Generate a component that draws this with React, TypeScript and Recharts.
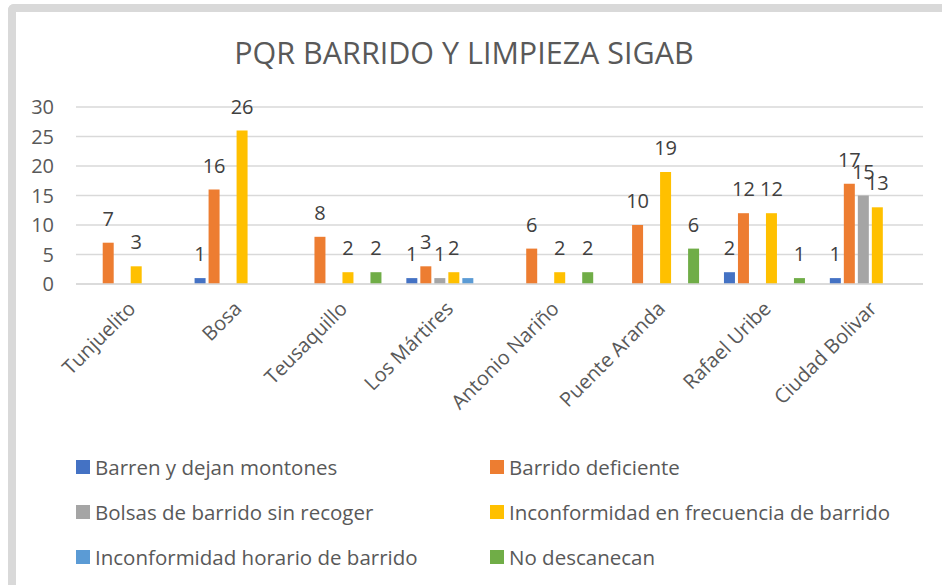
import { BarChart, Bar, XAxis, YAxis, CartesianGrid, LabelList } from 'recharts'

const categories = ['Tunjuelito', 'Bosa', 'Teusaquillo', 'Los Mártires', 'Antonio Nariño', 'Puente Aranda', 'Rafael Uribe', 'Ciudad Bolivar']

const barrenMontones = [null, 1, null, 1, null, null, 2, 1]
const barridoDeficiente = [7, 16, 8, 3, 6, 10, 12, 17]
const bolsasSinRecoger = [null, null, null, 1, null, null, null, 15]
const inconfFrecuencia = [3, 26, 2, 2, 2, 19, 12, 13]
const inconfHorario = [null, null, null, 1, null, null, null, null]
const noDescanecan = [null, null, 2, null, 2, 6, 1, null]

const yTicks = [0, 5, 10, 15, 20, 25, 30]

const series = [
  { key: 's1', name: 'Barren y dejan montones', color: '#4472C4', values: barrenMontones, labels: true },
  { key: 's2', name: 'Barrido deficiente', color: '#ED7D31', values: barridoDeficiente, labels: true },
  { key: 's3', name: 'Bolsas de barrido sin recoger', color: '#A5A5A5', values: bolsasSinRecoger, labels: true },
  { key: 's4', name: 'Inconformidad en frecuencia de barrido', color: '#FFC000', values: inconfFrecuencia, labels: true },
  { key: 's5', name: 'Inconformidad horario de barrido', color: '#5B9BD5', values: inconfHorario, labels: false },
  { key: 's6', name: 'No descanecan', color: '#70AD47', values: noDescanecan, labels: true },
]

const data = categories.map((name, i) => {
  const row: Record<string, string | number | null> = { name }
  for (const s of series) row[s.key] = s.values[i]
  return row
})

const FONT = '"Open Sans", sans-serif'
const TEXT = '#595959'

function AngledTick({ x, y, payload }: any) {
  return (
    <g transform={`translate(${x + 3},${y + 13})`}>
      <text textAnchor="end" transform="rotate(-45)" dy="0.35em" fill={TEXT} fontSize={20} fontFamily={FONT}>
        {payload.value}
      </text>
    </g>
  )
}

export default function App() {
  return (
    <div style={{ position: 'absolute', left: 0, top: 0, width: 942, height: 585, background: '#fff', overflow: 'hidden', fontFamily: FONT }}>
      {/* chart frame, only top/left edges are in view */}
      <div style={{ position: 'absolute', left: 8, top: 4, width: 960, height: 620, borderTop: '8px solid #d9d9d9', borderLeft: '8px solid #d9d9d9', borderTopLeftRadius: 6, boxSizing: 'border-box' }} />
      <div style={{ position: 'absolute', left: 0, width: 928, top: 32, textAlign: 'center', fontSize: 30.5, color: TEXT, lineHeight: '40px' }}>
        PQR BARRIDO Y LIMPIEZA SIGAB
      </div>
      <div style={{ position: 'absolute', left: 0, top: 0 }}>
        <BarChart width={942} height={585} data={data} margin={{ top: 107, right: 19, bottom: 201, left: 0 }} barCategoryGap="12%" barGap={3}>
          <CartesianGrid vertical={false} stroke="#d9d9d9" strokeWidth={1.5} />
          <XAxis dataKey="name" height={100} tickLine={false} axisLine={{ stroke: '#d9d9d9', strokeWidth: 1.5 }} tick={<AngledTick />} interval={0} />
          <YAxis width={76} domain={[0, 30]} ticks={yTicks} axisLine={false} tickLine={false} tickSize={0} tickMargin={22}
            tick={{ fill: TEXT, fontSize: 20, fontFamily: FONT }} />
          {series.map(s => (
            <Bar key={s.key} dataKey={s.key} name={s.name} fill={s.color} isAnimationActive={false}>
              {s.labels && <LabelList dataKey={s.key} position="top" offset={17} fill="#404040" fontSize={20} fontFamily={FONT} />}
            </Bar>
          ))}
        </BarChart>
      </div>
      {/* legend */}
      <div style={{ position: 'absolute', left: 76, top: 452, display: 'grid', gridTemplateColumns: '414px 420px', rowGap: 15, fontSize: 20.5, color: TEXT }}>
        {series.map(s => (
          <div key={s.key} style={{ display: 'flex', alignItems: 'center', height: 30, whiteSpace: 'nowrap' }}>
            <span style={{ display: 'inline-block', width: 14, height: 14, background: s.color, marginRight: 5 }} />
            {s.name}
          </div>
        ))}
      </div>
    </div>
  )
}
